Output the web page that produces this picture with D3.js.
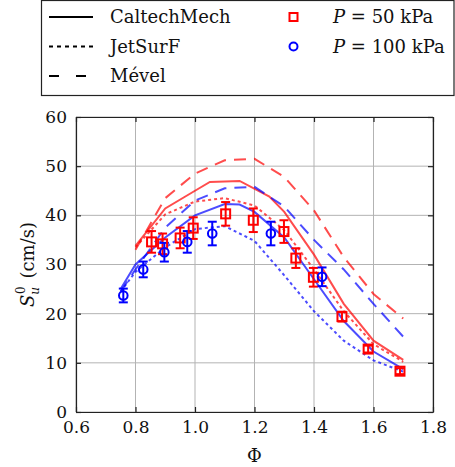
<!DOCTYPE html>
<html><head><meta charset="utf-8">
<script src="https://cdn.jsdelivr.net/npm/d3@7"></script>
<style>
html,body{margin:0;padding:0;background:#fff;}
</style></head>
<body>
<svg id="chart" width="455" height="467"></svg>
<script>
// ---- data ----
const xTicks = [0.6, 0.8, 1.0, 1.2, 1.4, 1.6, 1.8];
const yTicks = [0, 10, 20, 30, 40, 50, 60];

// experiments
const phi50 = [0.854, 0.891, 0.950, 0.994, 1.103, 1.196, 1.299, 1.339, 1.398, 1.494, 1.582, 1.689];
const su50  = [34.6, 34.2, 35.4, 37.4, 40.3, 39.0, 36.7, 31.3, 27.4, 19.4, 12.8, 8.3];
const err50 = [2.2, 2.1, 2.1, 2.2, 2.4, 2.4, 2.3, 2.0, 1.9, 1.0, 0.7, 0.6];
const phi100 = [0.759, 0.826, 0.897, 0.974, 1.058, 1.255, 1.427];
const su100  = [23.7, 29.0, 32.5, 34.6, 36.3, 36.3, 27.5];
const err100 = [1.4, 1.6, 1.9, 2.2, 2.4, 2.4, 1.9];

// models, 50 kPa
const caltech50Phi = [0.8, 0.9, 1.0, 1.05, 1.15, 1.25, 1.3, 1.4, 1.5, 1.6, 1.7];
const caltech50Su  = [33.8, 41.4, 45.0, 46.8, 47.0, 43.8, 40.7, 32.0, 22.0, 14.5, 10.6];
const jetsurf50Phi = [0.8, 0.9, 1.0, 1.1, 1.2, 1.3, 1.4, 1.5, 1.6, 1.7];
const jetsurf50Su  = [33.5, 40.2, 42.8, 43.5, 42.0, 37.0, 29.0, 20.5, 13.8, 10.2];
const mevel50Phi   = [0.8, 0.9, 1.0, 1.1, 1.2, 1.3, 1.4, 1.5, 1.6, 1.7];
const mevel50Su    = [33.0, 43.5, 48.5, 51.2, 51.5, 47.8, 41.0, 31.5, 24.0, 19.0];
// models, 100 kPa
const caltech100Phi = [0.75, 0.8, 0.9, 1.0, 1.1, 1.15, 1.2, 1.3, 1.4, 1.5, 1.6, 1.7];
const caltech100Su  = [25.0, 30.0, 35.5, 40.0, 42.3, 42.2, 40.7, 35.5, 27.0, 18.5, 12.3, 8.7];
const jetsurf100Phi = [0.75, 0.8, 0.9, 1.0, 1.1, 1.2, 1.3, 1.4, 1.5, 1.6, 1.7];
const jetsurf100Su  = [24.5, 28.5, 33.5, 37.2, 37.8, 34.8, 27.8, 20.5, 14.5, 10.5, 8.2];
const mevel100Phi   = [0.75, 0.8, 0.9, 1.0, 1.1, 1.2, 1.3, 1.4, 1.5, 1.6, 1.7];
const mevel100Su    = [24.5, 29.0, 37.5, 43.0, 45.5, 45.8, 41.8, 35.0, 29.0, 22.0, 15.3];

const mechNames = ["CaltechMech", "JetSurF", "Mével"];
const pressureLabels = ["50", "100"];

// ---- layout ----
const FONT = "DejaVu Serif";
const svg = d3.select("#chart").style("font-family", FONT);
const W = 455, H = 467;
const m = {left: 76, right: 22, top: 117, bottom: 55};
const x = d3.scaleLinear().domain([0.6, 1.8]).range([m.left, W - m.right]);
const y = d3.scaleLinear().domain([0, 60]).range([H - m.bottom, m.top]);

const dashes = {solid: null, dotted: "3,3", dashed: "12,8"};
const RED = "#ff0000", BLUE = "#0000ff";

// grid
const g = svg.append("g");
g.selectAll(".gx").data(xTicks).join("line")
  .attr("x1", d => x(d)).attr("x2", d => x(d))
  .attr("y1", y(0)).attr("y2", y(60))
  .attr("stroke", "#b3b3b3").attr("stroke-width", 1);
g.selectAll(".gy").data(yTicks).join("line")
  .attr("y1", d => y(d)).attr("y2", d => y(d))
  .attr("x1", x(0.6)).attr("x2", x(1.8))
  .attr("stroke", "#b3b3b3").attr("stroke-width", 1);

// model lines
const line = d3.line().x(d => x(d[0])).y(d => y(d[1]));
const models = [
  {phi: caltech50Phi, su: caltech50Su, c: RED, s: "solid"},
  {phi: jetsurf50Phi, su: jetsurf50Su, c: RED, s: "dotted"},
  {phi: mevel50Phi, su: mevel50Su, c: RED, s: "dashed"},
  {phi: caltech100Phi, su: caltech100Su, c: BLUE, s: "solid"},
  {phi: jetsurf100Phi, su: jetsurf100Su, c: BLUE, s: "dotted"},
  {phi: mevel100Phi, su: mevel100Su, c: BLUE, s: "dashed"}
];
models.forEach(md => {
  svg.append("path")
    .attr("d", line(md.phi.map((p, i) => [p, md.su[i]])))
    .attr("fill", "none").attr("stroke", md.c).attr("stroke-opacity", 0.7)
    .attr("stroke-width", 2)
    .attr("stroke-dasharray", dashes[md.s]);
});

// error bars + markers
function errBars(phi, su, err, color) {
  const gg = svg.append("g").attr("stroke", color).attr("stroke-width", 2).attr("fill", "none");
  phi.forEach((p, i) => {
    const cx = x(p);
    gg.append("line").attr("x1", cx).attr("x2", cx).attr("y1", y(su[i] - err[i])).attr("y2", y(su[i] + err[i]));
    gg.append("line").attr("x1", cx - 4.5).attr("x2", cx + 4.5).attr("y1", y(su[i] - err[i])).attr("y2", y(su[i] - err[i]));
    gg.append("line").attr("x1", cx - 4.5).attr("x2", cx + 4.5).attr("y1", y(su[i] + err[i])).attr("y2", y(su[i] + err[i]));
  });
}
errBars(phi50, su50, err50, RED);
errBars(phi100, su100, err100, BLUE);

svg.append("g").selectAll("rect").data(phi50.map((p, i) => [p, su50[i]])).join("rect")
  .attr("x", d => x(d[0]) - 4.5).attr("y", d => y(d[1]) - 4.5)
  .attr("width", 9).attr("height", 9)
  .attr("fill", "none").attr("stroke", RED).attr("stroke-width", 2);
svg.append("g").selectAll("circle").data(phi100.map((p, i) => [p, su100[i]])).join("circle")
  .attr("cx", d => x(d[0])).attr("cy", d => y(d[1])).attr("r", 4.3)
  .attr("fill", "none").attr("stroke", BLUE).attr("stroke-width", 2);

// axes (ticks inside on all sides)
const tickLen = 5;
const axB = svg.append("g").attr("transform", `translate(0,${y(0)})`)
  .call(d3.axisBottom(x).tickValues(xTicks).tickSize(-tickLen).tickSizeOuter(0).tickPadding(12).tickFormat(d3.format(".1f")));
const axT = svg.append("g").attr("transform", `translate(0,${y(60)})`)
  .call(d3.axisTop(x).tickValues(xTicks).tickSize(-tickLen).tickSizeOuter(0).tickFormat(""));
const axL = svg.append("g").attr("transform", `translate(${x(0.6)},0)`)
  .call(d3.axisLeft(y).tickValues(yTicks).tickSize(-tickLen).tickSizeOuter(0).tickPadding(9).tickFormat(d3.format("d")));
const axR = svg.append("g").attr("transform", `translate(${x(1.8)},0)`)
  .call(d3.axisRight(y).tickValues(yTicks).tickSize(-tickLen).tickSizeOuter(0).tickFormat(""));
[axB, axT, axL, axR].forEach(a => {
  a.attr("font-family", null).attr("font-size", null);
  a.select(".domain").attr("stroke", "#222").attr("stroke-width", 1.2);
  a.selectAll(".tick line").attr("stroke", "#222").attr("stroke-width", 1.2);
  a.selectAll("text").style("font-family", FONT).style("font-size", "17px").attr("fill", "#111");
});
axB.selectAll("text").attr("dy", "0.55em");

// axis labels
svg.append("text").attr("x", x(1.2)).attr("y", 462).attr("text-anchor", "middle")
  .style("font-family", FONT).style("font-size", "18px").attr("fill", "#111").text("Φ");
const yl = svg.append("text").attr("transform", `translate(34,${y(30)}) rotate(-90)`)
  .attr("text-anchor", "middle").style("font-family", FONT).style("font-size", "18px").attr("fill", "#111");
yl.append("tspan").attr("font-style", "italic").text("S");
yl.append("tspan").style("font-size", "12px").attr("dy", 5).attr("font-style", "italic").text("u");
yl.append("tspan").style("font-size", "12px").attr("dx", -7).attr("dy", -14).text("0");
yl.append("tspan").attr("dy", 9).attr("dx", 2).text(" (cm/s)");

// legend
const lg = svg.append("g");
lg.append("rect").attr("x", 41.5).attr("y", 0.5).attr("width", 412.5).attr("height", 95)
  .attr("fill", "#fff").attr("stroke", "#222").attr("stroke-width", 1.2);
const legDash = {solid: null, dotted: "4,4", dashed: "10,17"};
["solid", "dotted", "dashed"].forEach((s, i) => {
  const yy = 17 + i * 29.5;
  lg.append("line").attr("x1", 49).attr("x2", 93).attr("y1", yy).attr("y2", yy)
    .attr("stroke", "#000").attr("stroke-width", 2).attr("stroke-dasharray", legDash[s]);
  lg.append("text").attr("x", 110).attr("y", yy + 6).style("font-family", FONT).style("font-size", "18px").attr("fill", "#111").text(mechNames[i]);
});
pressureLabels.forEach((p, i) => {
  const yy = 17 + i * 29.5;
  if (i === 0) {
    lg.append("rect").attr("x", 289.5).attr("y", yy - 4).attr("width", 8).attr("height", 8)
      .attr("fill", "none").attr("stroke", RED).attr("stroke-width", 2);
  } else {
    lg.append("circle").attr("cx", 293.5).attr("cy", yy).attr("r", 4)
      .attr("fill", "none").attr("stroke", BLUE).attr("stroke-width", 2);
  }
  const t = lg.append("text").attr("x", 333).attr("y", yy + 6).style("font-family", FONT).style("font-size", "18px").attr("fill", "#111");
  t.append("tspan").attr("font-style", "italic").text("P");
  t.append("tspan").text(" = " + p + " kPa");
});
</script>
</body></html>
